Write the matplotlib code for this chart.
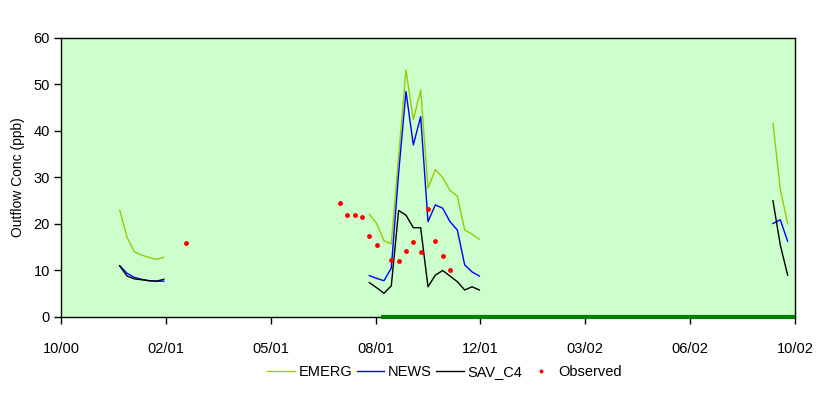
import numpy as np
import pandas as pd
import matplotlib
matplotlib.use("Agg")
import matplotlib.pyplot as plt
import matplotlib.dates as mdates

plt.rcParams['font.family'] = ['Liberation Sans', 'DejaVu Sans']

# weekly model output, three periods
dates1 = pd.to_datetime(['2000-12-26', '2001-01-02', '2001-01-09', '2001-01-16',
                         '2001-01-23', '2001-01-30', '2001-02-06'])
emerg1 = [23.0, 17.1, 14.0, 13.3, 12.8, 12.4, 12.8]
news1 = [11.0, 9.4, 8.5, 8.1, 7.8, 7.7, 7.7]
sav1 = [11.0, 8.8, 8.2, 8.0, 7.8, 7.7, 8.1]

dates2 = pd.to_datetime(['2001-08-21', '2001-08-28', '2001-09-04', '2001-09-11',
                         '2001-09-18', '2001-09-25', '2001-10-02', '2001-10-09',
                         '2001-10-16', '2001-10-23', '2001-10-30', '2001-11-06',
                         '2001-11-13', '2001-11-20', '2001-11-27', '2001-12-04'])
emerg2 = [22.1, 20.1, 16.4, 15.7, 34.5, 53.1, 42.4, 48.8,
          27.7, 31.7, 30.0, 27.2, 26.0, 18.7, 17.8, 16.7]
news2 = [8.9, 8.3, 7.8, 10.5, 31.0, 48.5, 37.0, 43.1,
         20.5, 24.1, 23.4, 20.5, 18.7, 11.2, 9.7, 8.8]
sav2 = [7.4, 6.3, 5.1, 6.7, 22.9, 21.9, 19.2, 19.2,
        6.5, 9.0, 10.0, 8.8, 7.6, 5.8, 6.5, 5.8]

dates3 = pd.to_datetime(['2002-09-10', '2002-09-17', '2002-09-24'])
emerg3 = [41.6, 27.5, 20.1]
news3 = [20.1, 20.9, 16.3]
sav3 = [25.0, 15.5, 9.0]

obs_dates = pd.to_datetime(['2001-02-27', '2001-07-24', '2001-07-31', '2001-08-07',
                            '2001-08-14', '2001-08-21', '2001-08-28', '2001-09-11',
                            '2001-09-18', '2001-09-25', '2001-10-02', '2001-10-09',
                            '2001-10-16', '2001-10-23', '2001-10-30', '2001-11-06'])
obs_vals = [15.9, 24.6, 22.0, 22.0, 21.6, 17.5, 15.5, 12.3,
            12.1, 14.2, 16.1, 14.0, 23.3, 16.4, 13.2, 10.0]

# period bar drawn along the x axis
bar_dates = pd.to_datetime(['2001-09-01', '2002-10-01'])
bar_vals = [0, 0]

x_min = pd.Timestamp('2000-10-31')
x_max = pd.Timestamp('2002-10-01')
tick_dates = [x_min + pd.Timedelta(days=100 * i) for i in range(8)]

c_emerg = '#99CC00'
c_news = '#0000FF'
c_sav = '#000000'

fig = plt.figure(figsize=(8.28, 3.95), dpi=100)
ax = fig.add_axes([0.0737, 0.1975, 0.8864, 0.7063])
ax.set_facecolor('#CCFFCC')

lw = 1.0
for d, e, n, s in [(dates1, emerg1, news1, sav1),
                   (dates2, emerg2, news2, sav2),
                   (dates3, emerg3, news3, sav3)]:
    l1, = ax.plot(d, e, color=c_emerg, lw=lw)
    l2, = ax.plot(d, n, color=c_news, lw=lw)
    l3, = ax.plot(d, s, color=c_sav, lw=lw)

l4, = ax.plot(obs_dates, obs_vals, 'o', color='#FF0000', markersize=3.5,
              markeredgewidth=0, linestyle='none')

ax.plot(bar_dates, bar_vals, color='#008000', lw=3, clip_on=False,
        solid_capstyle='butt', zorder=5)

ax.set_xlim(x_min, x_max)
ax.set_ylim(0, 60)
ax.set_yticks(np.arange(0, 61, 10))
ax.set_xticks(tick_dates)
ax.xaxis.set_major_formatter(mdates.DateFormatter('%m/%y'))
ax.tick_params(direction='out', length=5, width=1, labelsize=10.5,
               top=False, right=False)
ax.tick_params(axis='x', pad=13)
ax.tick_params(axis='y', pad=3)
for sp in ax.spines.values():
    sp.set_color('black')
    sp.set_linewidth(1)

ax.set_ylabel('Outflow Conc (ppb)', fontsize=10, labelpad=6)

fig.legend([l1, l2, l3, l4], ['EMERG', 'NEWS', 'SAV_C4', 'Observed'],
           loc='center', bbox_to_anchor=(0.537, 0.058), ncol=4, frameon=False,
           fontsize=10.5, handlelength=1.9, handletextpad=0.25, columnspacing=0.3,
           markerscale=0.8)

fig.savefig('out.png', dpi=100, facecolor='white')
